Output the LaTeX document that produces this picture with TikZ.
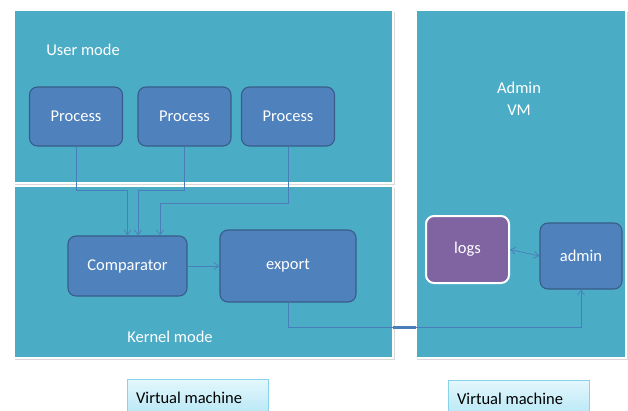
\documentclass[tikz,border=0pt]{standalone}
\usepackage{fontspec}
\setmainfont{Carlito}
\usetikzlibrary{arrows.meta,calc}
\definecolor{panel}{HTML}{4BACC6}
\definecolor{boxfill}{HTML}{4F81BD}
\definecolor{boxedge}{HTML}{385D8A}
\definecolor{conn}{HTML}{4A7EBB}
\definecolor{logsfill}{HTML}{8064A2}
\definecolor{vmedge}{HTML}{86D3EA}
\definecolor{vmtop}{HTML}{E4F7FD}
\definecolor{vmbot}{HTML}{B9E8F6}
\tikzset{
  panelbox/.style={draw=white,line width=1.6pt,fill=panel,minimum width=#1},
  blockbox/.style={draw=boxedge,line width=1.1pt,fill=boxfill,rounded corners=8pt,text=white,font=\fontsize{16.5}{19}\selectfont},
  logsbox/.style={draw=white,line width=2pt,fill=logsfill,rounded corners=8pt,text=white,font=\fontsize{16.5}{19}\selectfont},
  lbl/.style={text=white,font=\fontsize{16.5}{19}\selectfont},
  connline/.style={draw=conn,line width=0.7pt},
  tip/.style={-{Straight Barb[length=5pt,width=7pt,line width=0.7pt]}},
  vmbox/.style={draw=vmedge,line width=0.8pt,top color=vmtop,bottom color=vmbot,minimum width=141pt,minimum height=34pt,inner sep=0pt},
}
\begin{document}
\begin{tikzpicture}[x=1pt,y=-1pt]
\useasboundingbox (0,0) rectangle (628,410);
\fill[white] (0,0) rectangle (628,410);
% shadows
\fill[black!15] (15,12) rectangle (395,185);
\fill[black!15] (15,188) rectangle (395,360);
\fill[black!15] (417,12) rectangle (628,360);
% panels
\node[panelbox=379pt,minimum height=173pt] (user) at (203.5,96.5) {};
\node[panelbox=379pt,minimum height=172pt] (kernel) at (203.5,272) {};
\node[panelbox=210pt,minimum height=348pt] (adminvm) at (521,184) {};
% panel labels
\node[lbl] (ulbl) at (83,50) {User mode};
\node[lbl] (klbl) at (170,337) {Kernel mode};
\node[lbl,align=center] (albl) at (519,99) {Admin\\[3pt]VM};
% blocks
\node[blockbox,minimum width=93pt,minimum height=59pt] (p1) at (76,116.5) {Process};
\node[blockbox,minimum width=93pt,minimum height=59pt] (p2) at (184.5,116.5) {Process};
\node[blockbox,minimum width=93pt,minimum height=59pt] (p3) at (288,116.5) {Process};
\node[blockbox,minimum width=119pt,minimum height=60pt] (comp) at (127.5,266) {Comparator};
\node[blockbox,minimum width=136pt,minimum height=72pt] (exp) at (288,266) {export};
\node[logsbox,minimum width=83pt,minimum height=67pt] (logs) at (467.5,249.5) {logs};
\node[blockbox,minimum width=82pt,minimum height=66pt] (admin) at (581,256) {admin};
% connectors
\draw[connline,tip] (p1.south) -- ++(0,44) -| (comp.north);
\draw[connline,tip] (p2.south) -- ++(0,44) -| ([xshift=10.5pt]comp.north);
\draw[connline,tip] (p3.south) -- ++(0,57) -| ([xshift=32.5pt]comp.north);
\draw[connline,tip] (comp.east) -- (exp.west);
\draw[connline,tip] (exp.south) -- ++(0,25) -| (admin.south);
\draw[connline,{Straight Barb[length=5pt,width=7pt,line width=0.7pt]}-{Straight Barb[length=5pt,width=7pt,line width=0.7pt]}] (logs.east) -- (admin.west);
\coordinate (gapl) at (393,327);
\coordinate (gapr) at (416,327);
\draw[draw=conn,line width=3pt] (gapl) -- (gapr);
% virtual machine labels
\node[vmbox] (vm1) at (197.5,396) {};
\node[anchor=west,font=\fontsize{16.5}{19}\selectfont] (vm1t) at ([xshift=6pt,yshift=-2pt]vm1.west) {Virtual machine};
\node[vmbox] (vm2) at (518.5,397) {};
\node[anchor=west,font=\fontsize{16.5}{19}\selectfont] (vm2t) at ([xshift=6pt,yshift=-2pt]vm2.west) {Virtual machine};
\end{tikzpicture}
\end{document}
